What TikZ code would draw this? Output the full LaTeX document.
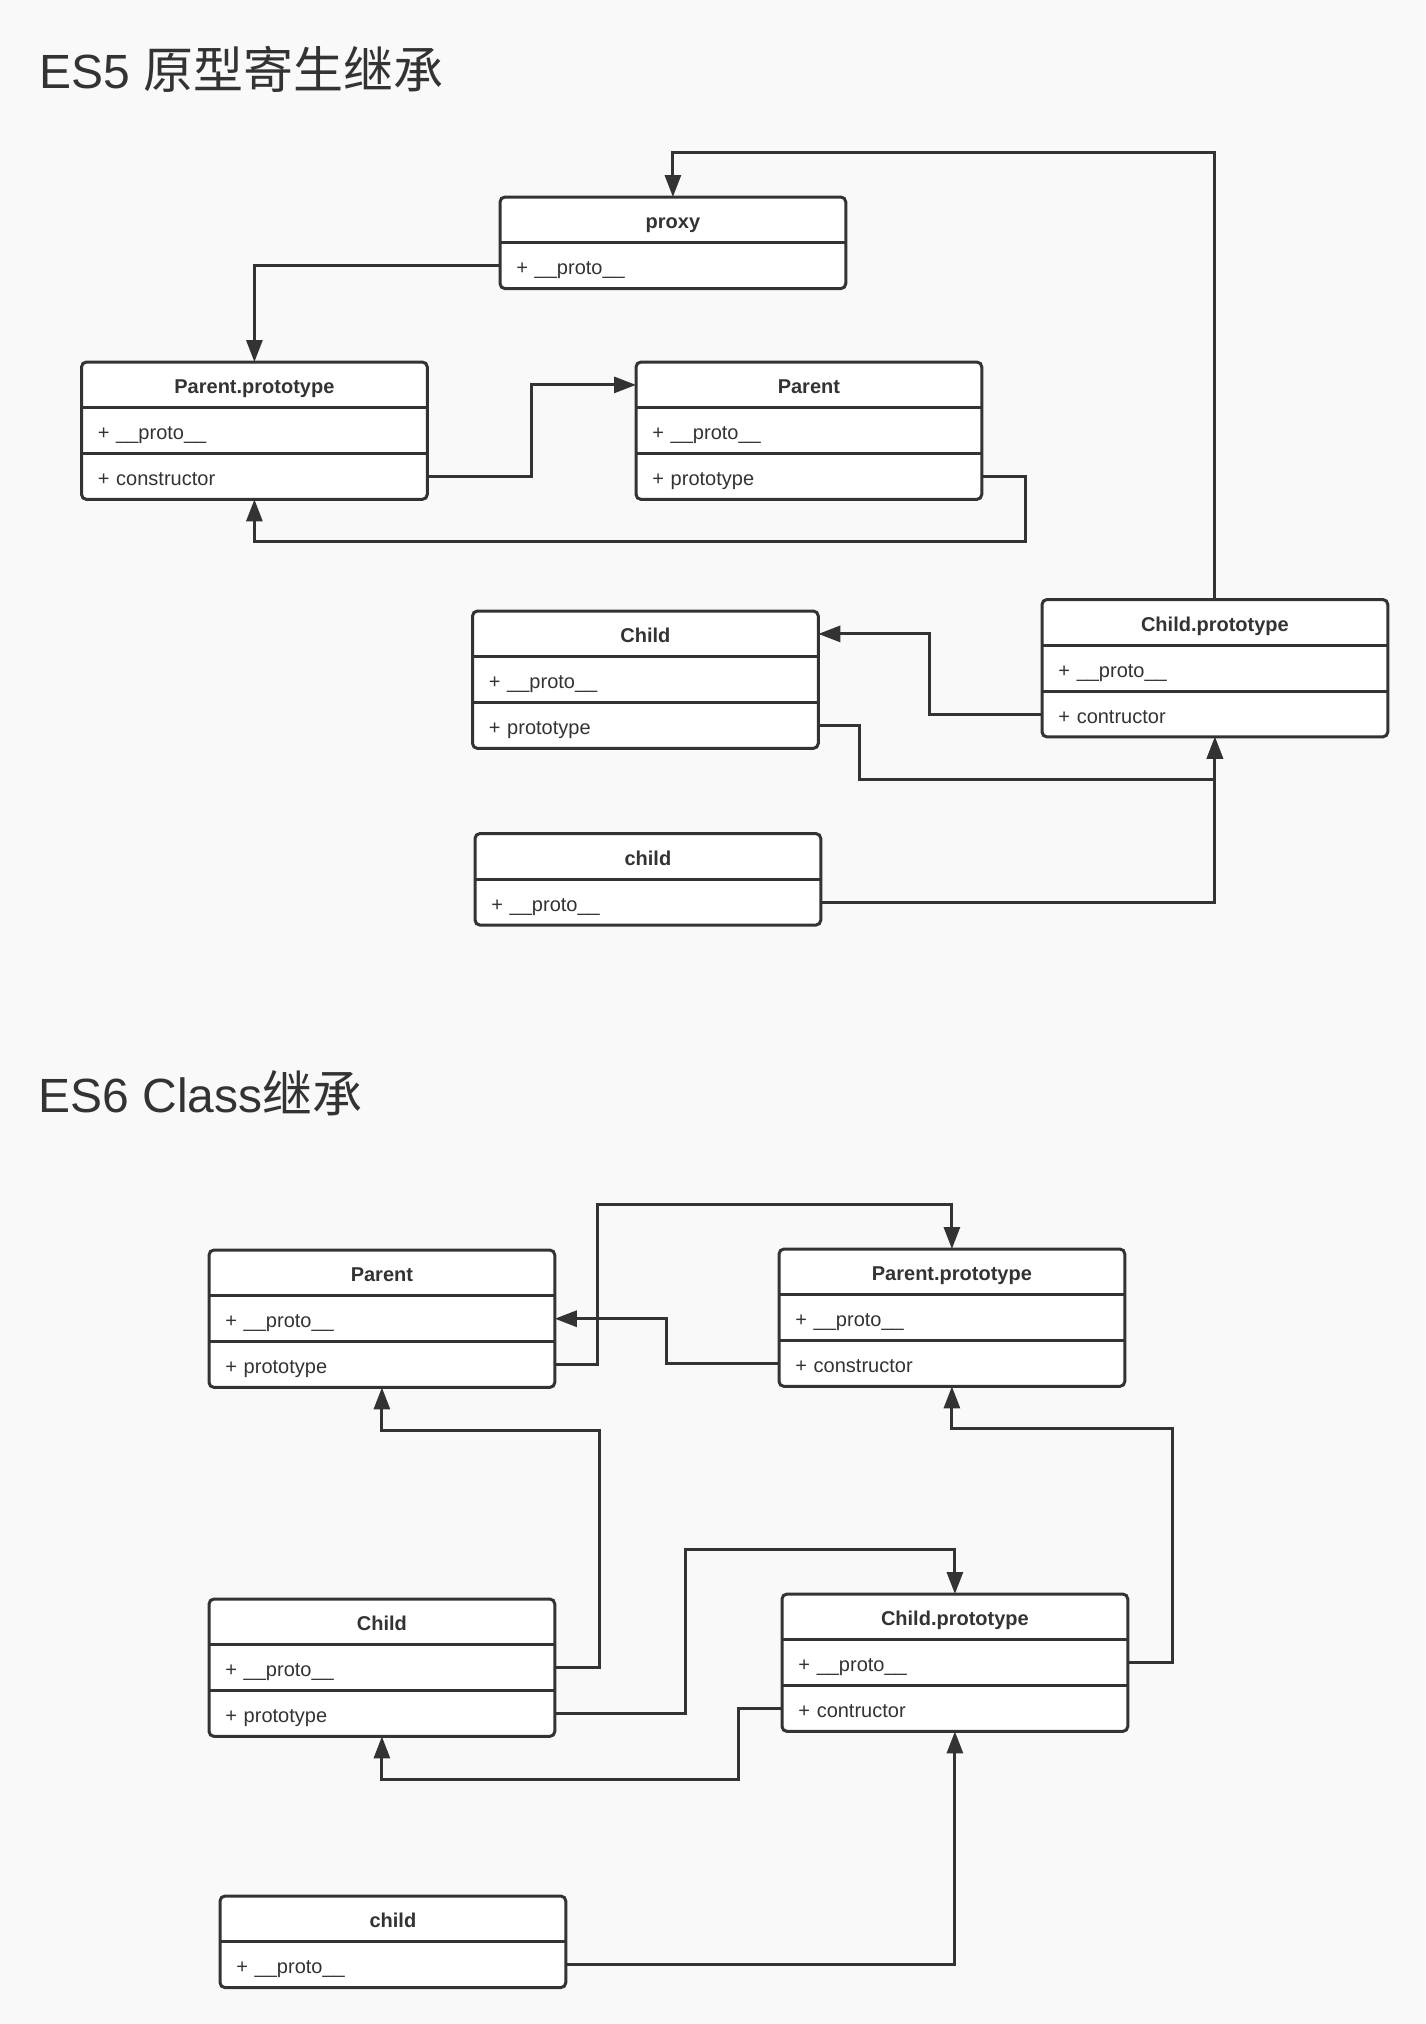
\documentclass[tikz,border=0pt]{standalone}
\usepackage{fontspec}
\setmainfont{Liberation Sans}
\newfontfamily\cjk{Noto Sans CJK SC}
\usetikzlibrary{arrows.meta}
\definecolor{ink}{HTML}{333333}
\definecolor{bg}{HTML}{F9F9F9}
\newcommand\umlOne[5]{%
  \node[hdr] (#1) at (#2,#3) {#4};
  \node[row] (#1-1) at (#1.south west) {#5};
  \draw[frame] (#1.south west) -- (#1.south east);
  \draw[frame, rounded corners=2.5pt] (#1.north west) rectangle (#1-1.south east);
}
\newcommand\umlTwo[6]{%
  \node[hdr] (#1) at (#2,#3) {#4};
  \node[row] (#1-1) at (#1.south west) {#5};
  \node[row] (#1-2) at (#1-1.south west) {#6};
  \draw[frame] (#1.south west) -- (#1.south east);
  \draw[frame] (#1-1.south west) -- (#1-1.south east);
  \draw[frame, rounded corners=2.5pt] (#1.north west) rectangle (#1-2.south east);
}
\newcommand\pr{+ \_\_proto\_\_}
\begin{document}
\begin{tikzpicture}[x=0.5pt,y=-0.5pt,
  hdr/.style={fill=white, minimum width=172.5pt, minimum height=22.5pt, inner sep=0pt,
    text height=9pt, text depth=0pt,
    anchor=north west, font=\bfseries\fontsize{10}{12}\selectfont, text=ink},
  row/.style={fill=white, minimum height=22.5pt, inner xsep=8pt, inner ysep=0pt,
    text height=9pt, text depth=0pt,
    text width=156.5pt, align=left, anchor=north west,
    font=\fontsize{10}{12}\selectfont, text=ink},
  frame/.style={draw=ink, line width=1.5pt},
  conn/.style={draw=ink, line width=1.5pt, -{Triangle[length=11pt,width=8pt]}},
  title/.style={anchor=base west, inner sep=0pt, font=\fontsize{24}{28}\selectfont, text=ink}]
\useasboundingbox (0,0) rectangle (1425,2024);
\fill[bg] (0,0) rectangle (1425,2024);

% ---------- ES5 ----------
\node[title] (t5) at (39,88) {ES5 {\cjk\fontsize{25}{28}\selectfont 原型寄生继承}};
\umlOne{proxy}{500}{197}{proxy}{\pr}
\umlTwo{pp5}{81.5}{362}{Parent.prototype}{\pr}{+ constructor}
\umlTwo{pa5}{636}{362}{Parent}{\pr}{+ prototype}
\umlTwo{ch5}{472.5}{611}{Child}{\pr}{+ prototype}
\umlTwo{cp5}{1042}{599.5}{Child.prototype}{\pr}{+ contructor}
\umlOne{in5}{475}{833.5}{child}{\pr}

\coordinate (a1) at (0,152);
\coordinate (a4) at (1025,541.5);
\coordinate (a6) at (859,779.3);
\draw[conn] (cp5.north) |- (a1 -| proxy.north) -- (proxy.north);
\draw[conn] (proxy-1.west) -| (pp5.north);
\draw[conn] (pp5-2.east) -- ++(104,0) |- (pa5.west);
\draw[conn] (pa5-2.east) -| (a4) -| (pp5-2.south);
\draw[conn] (cp5-2.west) -- ++(-113,0) |- (ch5.east);
\draw[conn] (ch5-2.east) -| (a6) -| (cp5-2.south);
\draw[conn] (in5-1.east) -| (cp5-2.south);

% ---------- ES6 ----------
\node[title] (t6) at (38,1112) {ES6 Class{\cjk\fontsize{25}{28}\selectfont 继承}};
\umlTwo{pa6}{209}{1250}{Parent}{\pr}{+ prototype}
\umlTwo{pp6}{779}{1249}{Parent.prototype}{\pr}{+ constructor}
\umlTwo{ch6}{209}{1599}{Child}{\pr}{+ prototype}
\umlTwo{cp6}{782}{1594}{Child.prototype}{\pr}{+ contructor}
\umlOne{in6}{220}{1896}{child}{\pr}

\coordinate (b1) at (597.3,1204);
\coordinate (b3) at (599.3,1430.4);
\coordinate (b4) at (685.7,1549);
\coordinate (b5) at (1172.7,1428.5);
\coordinate (b6) at (738.3,1779.3);
\draw[conn] (pa6-2.east) -| (b1) -| (pp6.north);
\draw[conn] (pp6-2.west) -- ++(-112.3,0) |- (pa6-1.east);
\draw[conn] (ch6-1.east) -| (b3) -| (pa6-2.south);
\draw[conn] (ch6-2.east) -| (b4) -| (cp6.north);
\draw[conn] (cp6-1.east) -| (b5) -| (pp6-2.south);
\draw[conn] (cp6-2.west) -| (b6) -| (ch6-2.south);
\draw[conn] (in6-1.east) -| (cp6-2.south);
\end{tikzpicture}
\end{document}
